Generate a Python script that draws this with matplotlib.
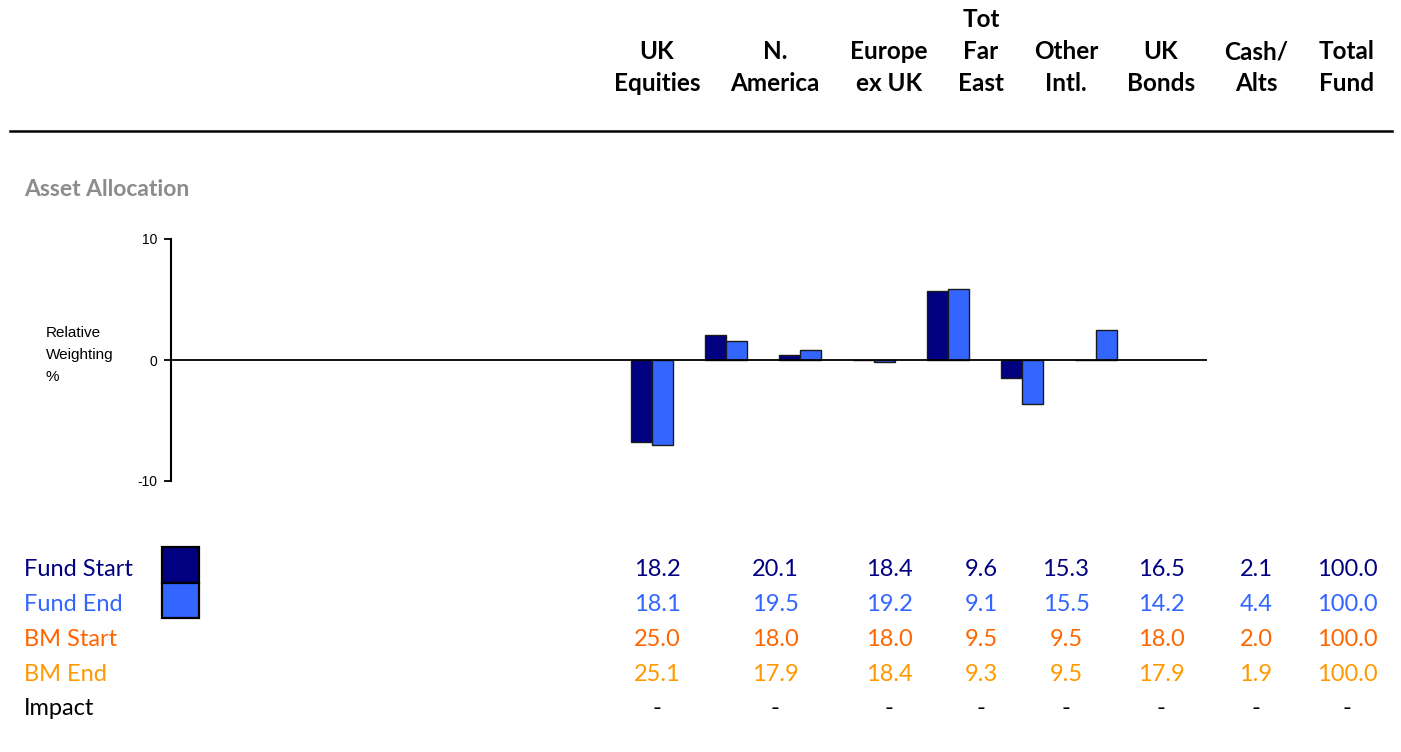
import numpy as np
import matplotlib
matplotlib.use('Agg')
import matplotlib.pyplot as plt
from matplotlib.patches import Rectangle

# ---------------- data ----------------
header_lines = [['UK', 'Equities'], ['N.', 'America'], ['Europe', 'ex UK'],
                ['Tot', 'Far', 'East'], ['Other', 'Intl.'], ['UK', 'Bonds'],
                ['Cash/', 'Alts'], ['Total', 'Fund']]

chart_categories = ['UK Equities', 'N. America', 'Europe ex UK', 'Tot Far East',
                    'Other Intl.', 'UK Bonds', 'Cash/Alts']
rel_start = [-6.8, 2.1, 0.4, 0.0, 5.7, -1.5, 0.0]
rel_end = [-7.0, 1.6, 0.8, -0.2, 5.9, -3.6, 2.5]

row_labels = ['Fund Start', 'Fund End', 'BM Start', 'BM End', 'Impact']
fund_start = [18.2, 20.1, 18.4, 9.6, 15.3, 16.5, 2.1, 100.0]
fund_end = [18.1, 19.5, 19.2, 9.1, 15.5, 14.2, 4.4, 100.0]
bm_start = [25.0, 18.0, 18.0, 9.5, 9.5, 18.0, 2.0, 100.0]
bm_end = [25.1, 17.9, 18.4, 9.3, 9.5, 17.9, 1.9, 100.0]
impact = ['-', '-', '-', '-', '-', '-', '-', '-']

# ---------------- styling ----------------
W, H = 1401, 752
NAVY = '#000080'
BLUE = '#3366FF'
ORANGE = '#FF6600'
LORANGE = '#FF9900'
GREY = '#8C8C8C'
FONT = ['Lato', 'DejaVu Sans']
plt.rcParams['font.family'] = FONT

fig = plt.figure(figsize=(W / 100, H / 100), dpi=100)


def fx(x):
    return x / W


def fy(y):
    return 1 - y / H


# header columns
col_x = [657, 775, 889, 981, 1066, 1161, 1256, 1347]
base_rows = [91, 59, 27]  # baselines from bottom line upward
for cx, lines in zip(col_x, header_lines):
    for i, line in enumerate(reversed(lines)):
        fig.text(fx(cx), fy(base_rows[i]), line, ha='center', va='baseline',
                 fontsize=17.5, fontweight='bold', color='black')

# horizontal rule
fig.add_artist(plt.Line2D([fx(10), fx(1392)], [fy(131), fy(131)],
                          transform=fig.transFigure, color='black', lw=1.8))

# section title
fig.text(fx(24), fy(196), 'Asset Allocation', ha='left', va='baseline',
         fontsize=16.5, fontweight='bold', color=GREY)

# ---------------- chart ----------------
ax = fig.add_axes([fx(171), fy(481), (1207 - 171) / W, (481 - 239) / H])
n_slots = 14
first_slot = 6
xpos = np.arange(len(chart_categories)) + first_slot
bw = 0.28
ax.bar(xpos - bw / 2, rel_start, width=bw, color=NAVY, edgecolor='#1a1a1a',
       linewidth=1.0, zorder=2)
ax.bar(xpos + bw / 2, rel_end, width=bw, color=BLUE, edgecolor='#1a1a1a',
       linewidth=1.0, zorder=2)
ax.axhline(0, color='black', lw=1.3, zorder=3)
ax.set_xlim(-0.5, n_slots - 0.5)
ax.set_ylim(-10, 10)
for s in ['top', 'right', 'bottom']:
    ax.spines[s].set_visible(False)
ax.spines['left'].set_linewidth(1.5)
ax.set_xticks([])
ax.set_yticks([-10, 0, 10])
ax.set_yticklabels(['-10', '0', '10'], fontfamily=['Liberation Sans', 'DejaVu Sans'])
ax.tick_params(axis='y', direction='out', length=5, width=1.3, labelsize=10, pad=5)
ax.patch.set_alpha(0)

# y label (three lines)
for txt, yy in zip(['Relative', 'Weighting', '%'], [333, 355, 377]):
    fig.text(fx(46), fy(yy), txt, ha='left', va='center', fontsize=11,
             fontfamily=['Liberation Sans', 'DejaVu Sans'], color='black')

# ---------------- table ----------------
row_base = [576, 611, 646, 681, 715]
row_colors = [NAVY, BLUE, ORANGE, LORANGE, 'black']
row_values = [fund_start, fund_end, bm_start, bm_end, impact]
for lbl, yb, col, vals in zip(row_labels, row_base, row_colors, row_values):
    fig.text(fx(24), fy(yb), lbl, ha='left', va='baseline', fontsize=17, color=col)
    for cx, v in zip(col_x, vals):
        s = v if isinstance(v, str) else f'{v:.1f}'
        fig.text(fx(cx), fy(yb), s, ha='center', va='baseline', fontsize=17, color=col)

# legend swatches
for (y0, y1), col in zip([(547, 583), (583, 618)], [NAVY, BLUE]):
    fig.add_artist(Rectangle((fx(162), fy(y1)), (199 - 162) / W, (y1 - y0) / H,
                             transform=fig.transFigure, facecolor=col,
                             edgecolor='black', linewidth=1.6))

fig.savefig('out.png', dpi=100)
